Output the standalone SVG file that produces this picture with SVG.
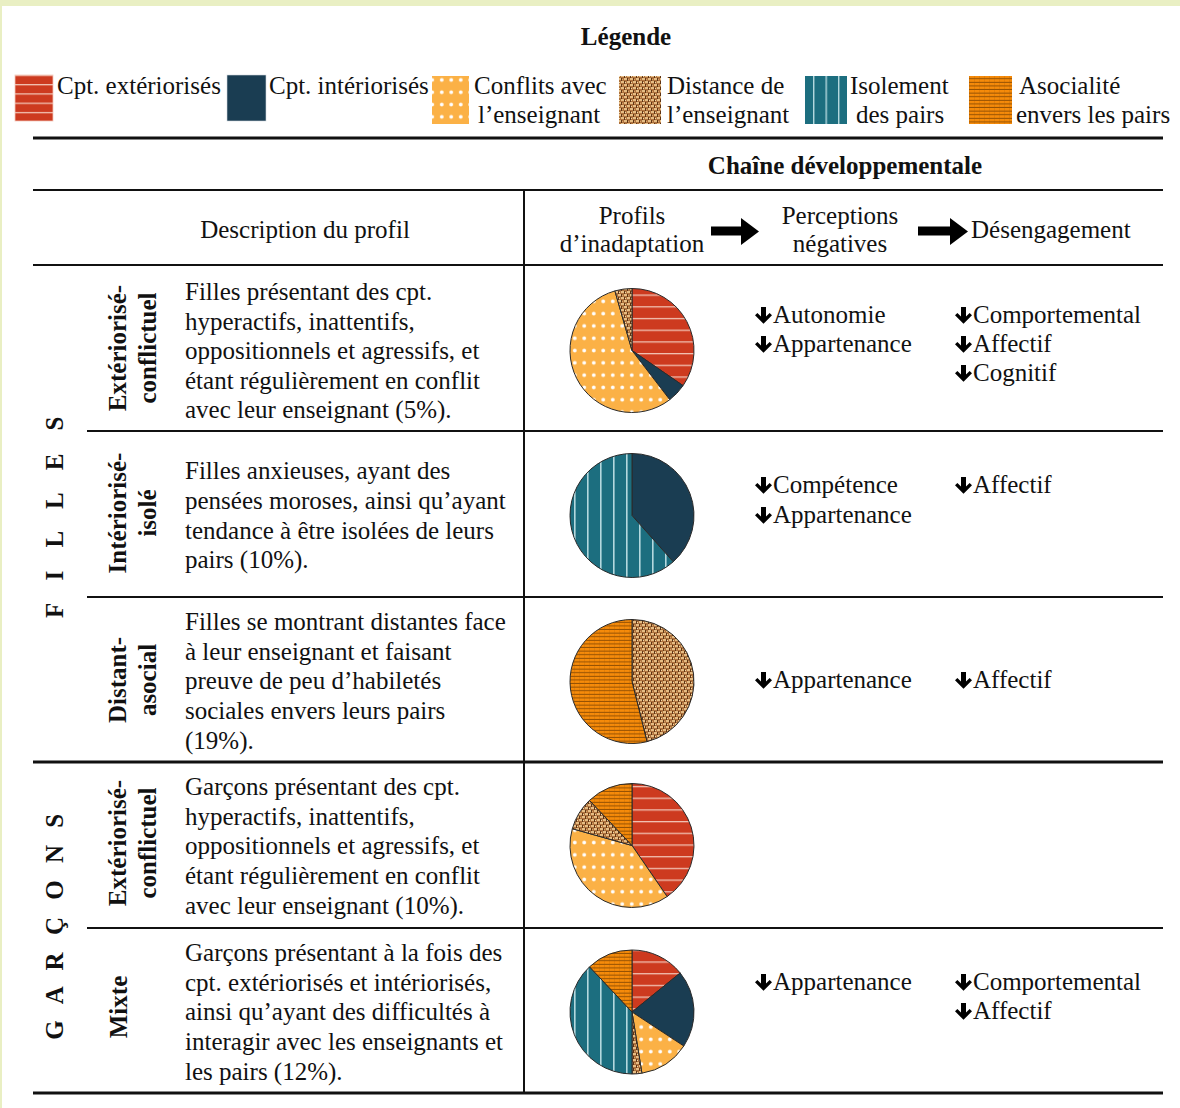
<svg xmlns="http://www.w3.org/2000/svg" xmlns:xlink="http://www.w3.org/1999/xlink" width="1180" height="1108" viewBox="0 0 1180 1108">
<style>
.t{font-family:"Liberation Serif","Times New Roman",serif;font-size:25px;fill:#111}
.b{font-family:"Liberation Serif","Times New Roman",serif;font-size:25px;font-weight:bold;fill:#111}
.lb{font-family:"Liberation Serif","Times New Roman",serif;font-size:25px;font-weight:bold;fill:#111}
.m{text-anchor:middle}
.rule{stroke:#111;stroke-width:2}
.thick{stroke:#111;stroke-width:3}
.w{stroke:#2a2a2a;stroke-width:1;stroke-linejoin:round}
</style>
<defs>
<polygon id="down" points="6,0 11,0 11,9.5 14.6,5.9 17,8.3 8.5,16.8 0,8.3 2.4,5.9 6,9.5" fill="#000"/>
<pattern id="red" width="10" height="11.7" patternUnits="userSpaceOnUse" y="2"><rect width="10" height="11.7" fill="#cd3a1f"/><rect y="0" width="10" height="1.3" fill="#f1c1b2"/></pattern>
<pattern id="redL" width="10" height="9.3" patternUnits="userSpaceOnUse" y="84"><rect width="10" height="9.3" fill="#cd3a1f"/><rect y="0" width="10" height="1.3" fill="#f1c1b2"/></pattern>
<pattern id="dots" width="9.5" height="12.3" patternUnits="userSpaceOnUse"><rect width="9.5" height="12.3" fill="#fbb146"/><circle cx="4.75" cy="6.15" r="1.9" fill="#fff"/></pattern>
<pattern id="teal" width="13" height="10" patternUnits="userSpaceOnUse" x="2"><rect width="13" height="10" fill="#1c6e7f"/><rect x="0" width="1.6" height="10" fill="#b4d8de"/></pattern>
<pattern id="tealL" width="12.5" height="10" patternUnits="userSpaceOnUse" x="813"><rect width="12.5" height="10" fill="#1c6e7f"/><rect x="0" width="1.4" height="10" fill="#b4d8de"/></pattern>
<pattern id="burlap" width="6" height="6" patternUnits="userSpaceOnUse"><rect width="6" height="6" fill="#ad713d"/><rect x="0" y="0" width="3" height="2" fill="#e6bd84"/><rect x="3" y="3" width="3" height="2" fill="#e6bd84"/><rect x="3" y="0" width="1" height="3" fill="#5e3414"/><rect x="0" y="3" width="1" height="3" fill="#5e3414"/><rect x="1" y="4" width="1" height="1" fill="#f3d9aa"/><rect x="4" y="1" width="1" height="1" fill="#d9a66a"/></pattern>
<pattern id="asoc" width="5" height="3.6" patternUnits="userSpaceOnUse"><rect width="5" height="3.6" fill="#f68b0a"/><rect y="2.6" width="5" height="1" fill="#6e3b00" opacity="0.75"/><rect x="4" width="0.6" height="3.6" fill="#a85800" opacity="0.35"/></pattern>
</defs>

<rect width="1180" height="1108" fill="#e9efc3"/>
<rect x="2" y="6" width="1178" height="1102" fill="#fff"/>

<g id="legend">
<text class="b m" x="626" y="45">Légende</text>
<rect x="15" y="75" width="38" height="46" fill="url(#redL)" stroke="#f3c8bb" stroke-width="0.8"/>
<text class="t" x="57" y="94">Cpt. extériorisés</text>
<rect x="227" y="75" width="39" height="46" fill="#1a3d52" stroke="#cfd8de" stroke-width="0.6"/>
<text class="t" x="269" y="94">Cpt. intériorisés</text>
<rect x="432" y="76" width="37" height="48" fill="url(#dots)"/>
<text class="t" x="474" y="94">Conflits avec</text>
<text class="t" x="478" y="123">l’enseignant</text>
<rect x="619" y="76" width="42" height="48" fill="url(#burlap)"/>
<text class="t" x="667" y="94">Distance de</text>
<text class="t" x="667" y="123">l’enseignant</text>
<rect x="805" y="76" width="42" height="48" fill="url(#tealL)"/>
<text class="t" x="850" y="94">Isolement</text>
<text class="t" x="856" y="123">des pairs</text>
<rect x="969" y="76" width="43" height="48" fill="url(#asoc)"/>
<text class="t" x="1019" y="94">Asocialité</text>
<text class="t" x="1016" y="123">envers les pairs</text>
</g>

<g id="table-rules">
<line class="thick" x1="33" y1="138" x2="1163" y2="138"/>
<line class="rule" x1="33" y1="190" x2="1163" y2="190"/>
<line class="rule" x1="33" y1="265" x2="1163" y2="265"/>
<line class="rule" x1="87" y1="431" x2="1163" y2="431"/>
<line class="rule" x1="87" y1="597" x2="1163" y2="597"/>
<line class="thick" x1="33" y1="762" x2="1163" y2="762"/>
<line class="rule" x1="87" y1="928" x2="1163" y2="928"/>
<line class="thick" x1="33" y1="1093" x2="1163" y2="1093"/>
<line class="rule" x1="524" y1="190" x2="524" y2="1093"/>
</g>

<g id="header">
<text class="b m" x="845" y="174">Chaîne développementale</text>
<text class="t m" x="305" y="238">Description du profil</text>
<text class="t m" x="632" y="224">Profils</text>
<text class="t m" x="632" y="252">d’inadaptation</text>
<text class="t m" x="840" y="224">Perceptions</text>
<text class="t m" x="840" y="252">négatives</text>
<text class="t" x="971" y="238">Désengagement</text>
</g>

<g id="connectors">
<polygon points="711,226.5 741,226.5 741,218 759,231.5 741,245 741,235.5 711,235.5" fill="#000"/>
<polygon points="918,226.5 950,226.5 950,218 968,231.5 950,245 950,235.5 918,235.5" fill="#000"/>
</g>

<g id="group-filles">
<text class="lb" transform="translate(63,513) rotate(-90)" text-anchor="middle" letter-spacing="8.5">F I L L E S</text>
</g>
<g id="group-garcons">
<text class="lb" transform="translate(63,924) rotate(-90)" text-anchor="middle" letter-spacing="5.5">G A R Ç O N S</text>
</g>

<g id="row1">
<text class="lb m" transform="translate(126,348) rotate(-90)">Extériorisé-</text>
<text class="lb m" transform="translate(156,348) rotate(-90)">conflictuel</text>
<text class="t" x="185" y="300">Filles présentant des cpt.</text>
<text class="t" x="185" y="329.5">hyperactifs, inattentifs,</text>
<text class="t" x="185" y="359">oppositionnels et agressifs, et</text>
<text class="t" x="185" y="388.5">étant régulièrement en conflit</text>
<text class="t" x="185" y="418">avec leur enseignant (5%).</text>
<g class="w">
<path d="M632,350.5 L632,288.5 A62,62 0 0 1 683.09,385.62 Z" fill="url(#red)"/>
<path d="M632,350.5 L683.09,385.62 A62,62 0 0 1 669.74,399.69 Z" fill="#1a3d52"/>
<path d="M632,350.5 L669.74,399.69 A62,62 0 1 1 614.91,290.9 Z" fill="url(#dots)"/>
<path d="M632,350.5 L614.91,290.9 A62,62 0 0 1 632,288.5 Z" fill="url(#burlap)"/>
</g>
<use xlink:href="#down" href="#down" x="755" y="307"/><text class="t" x="773" y="323">Autonomie</text>
<use xlink:href="#down" href="#down" x="755" y="336"/><text class="t" x="773" y="352">Appartenance</text>
<use xlink:href="#down" href="#down" x="955" y="307"/><text class="t" x="973" y="323">Comportemental</text>
<use xlink:href="#down" href="#down" x="955" y="336"/><text class="t" x="973" y="352">Affectif</text>
<use xlink:href="#down" href="#down" x="955" y="365"/><text class="t" x="973" y="381">Cognitif</text>
</g>

<g id="row2">
<text class="lb m" transform="translate(126,513) rotate(-90)">Intériorisé-</text>
<text class="lb m" transform="translate(156,513) rotate(-90)">isolé</text>
<text class="t" x="185" y="479">Filles anxieuses, ayant des</text>
<text class="t" x="185" y="509">pensées moroses, ainsi qu’ayant</text>
<text class="t" x="185" y="539">tendance à être isolées de leurs</text>
<text class="t" x="185" y="568">pairs (10%).</text>
<g class="w">
<path d="M632,515.5 L632,453.5 A62,62 0 0 1 673.24,561.79 Z" fill="#1a3d52"/>
<path d="M632,515.5 L673.24,561.79 A62,62 0 1 1 632,453.5 Z" fill="url(#teal)"/>
</g>
<use xlink:href="#down" href="#down" x="755" y="477"/><text class="t" x="773" y="493">Compétence</text>
<use xlink:href="#down" href="#down" x="755" y="507"/><text class="t" x="773" y="523">Appartenance</text>
<use xlink:href="#down" href="#down" x="955" y="477"/><text class="t" x="973" y="493">Affectif</text>
</g>

<g id="row3">
<text class="lb m" transform="translate(126,680) rotate(-90)">Distant-</text>
<text class="lb m" transform="translate(156,680) rotate(-90)">asocial</text>
<text class="t" x="185" y="630">Filles se montrant distantes face</text>
<text class="t" x="185" y="659.5">à leur enseignant et faisant</text>
<text class="t" x="185" y="689">preuve de peu d’habiletés</text>
<text class="t" x="185" y="719">sociales envers leurs pairs</text>
<text class="t" x="185" y="749">(19%).</text>
<g class="w">
<path d="M632,681.5 L632,619.5 A62,62 0 0 1 647,741.66 Z" fill="url(#burlap)"/>
<path d="M632,681.5 L647,741.66 A62,62 0 1 1 632,619.5 Z" fill="url(#asoc)"/>
</g>
<use xlink:href="#down" href="#down" x="755" y="672"/><text class="t" x="773" y="688">Appartenance</text>
<use xlink:href="#down" href="#down" x="955" y="672"/><text class="t" x="973" y="688">Affectif</text>
</g>

<g id="row4">
<text class="lb m" transform="translate(126,843) rotate(-90)">Extériorisé-</text>
<text class="lb m" transform="translate(156,843) rotate(-90)">conflictuel</text>
<text class="t" x="185" y="795">Garçons présentant des cpt.</text>
<text class="t" x="185" y="825">hyperactifs, inattentifs,</text>
<text class="t" x="185" y="854">oppositionnels et agressifs, et</text>
<text class="t" x="185" y="884">étant régulièrement en conflit</text>
<text class="t" x="185" y="914">avec leur enseignant (10%).</text>
<g class="w">
<path d="M632,845.5 L632,783.5 A62,62 0 0 1 667.12,896.59 Z" fill="url(#red)"/>
<path d="M632,845.5 L667.12,896.59 A62,62 0 0 1 572.31,828.72 Z" fill="url(#dots)"/>
<path d="M632,845.5 L572.31,828.72 A62,62 0 0 1 589.48,800.38 Z" fill="url(#burlap)"/>
<path d="M632,845.5 L589.48,800.38 A62,62 0 0 1 632,783.5 Z" fill="url(#asoc)"/>
</g>
</g>

<g id="row5">
<text class="lb m" transform="translate(127,1007) rotate(-90)">Mixte</text>
<text class="t" x="185" y="961">Garçons présentant à la fois des</text>
<text class="t" x="185" y="991">cpt. extériorisés et intériorisés,</text>
<text class="t" x="185" y="1020">ainsi qu’ayant des difficultés à</text>
<text class="t" x="185" y="1050">interagir avec les enseignants et</text>
<text class="t" x="185" y="1080">les pairs (12%).</text>
<g class="w">
<path d="M632,1012 L632,950 A62,62 0 0 1 680.18,972.98 Z" fill="url(#red)"/>
<path d="M632,1012 L680.18,972.98 A62,62 0 0 1 683.82,1046.04 Z" fill="#1a3d52"/>
<path d="M632,1012 L683.82,1046.04 A62,62 0 0 1 641.91,1073.2 Z" fill="url(#dots)"/>
<path d="M632,1012 L641.91,1073.2 A62,62 0 0 1 632,1074 Z" fill="url(#burlap)"/>
<path d="M632,1012 L632,1074 A62,62 0 0 1 589.56,966.8 Z" fill="url(#teal)"/>
<path d="M632,1012 L589.56,966.8 A62,62 0 0 1 632,950 Z" fill="url(#asoc)"/>
</g>
<use xlink:href="#down" href="#down" x="755" y="974"/><text class="t" x="773" y="990">Appartenance</text>
<use xlink:href="#down" href="#down" x="955" y="974"/><text class="t" x="973" y="990">Comportemental</text>
<use xlink:href="#down" href="#down" x="955" y="1003"/><text class="t" x="973" y="1019">Affectif</text>
</g>
</svg>
